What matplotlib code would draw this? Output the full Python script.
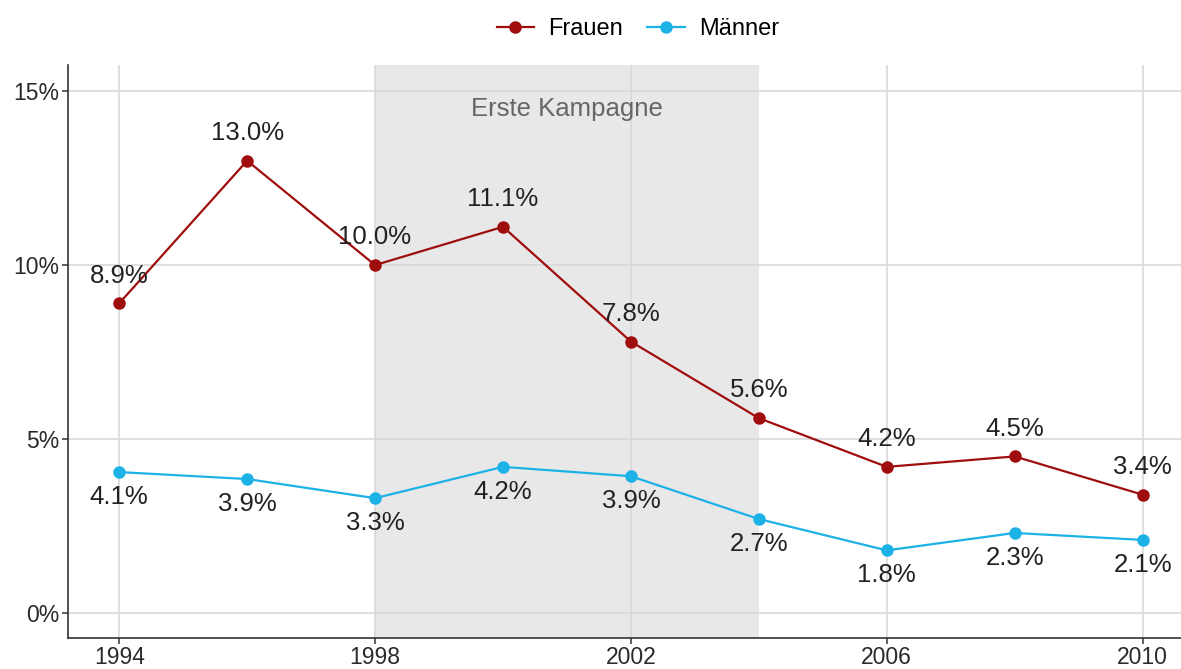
import numpy as np
import matplotlib.pyplot as plt
from matplotlib.ticker import FuncFormatter

plt.rcParams['font.family'] = ['Liberation Sans', 'DejaVu Sans']

# ── Daten ────────────────────────────────────────────────────────────────
jahre   = [1994, 1996, 1998, 2000, 2002, 2004, 2006, 2008, 2010]
frauen  = [8.9, 13.0, 10.0, 11.1, 7.8, 5.6, 4.2, 4.5, 3.4]
maenner = [4.05, 3.85, 3.3, 4.2, 3.93, 2.7, 1.8, 2.3, 2.1]
labels_frauen  = ['8.9%', '13.0%', '10.0%', '11.1%', '7.8%', '5.6%', '4.2%', '4.5%', '3.4%']
labels_maenner = ['4.1%', '3.9%', '3.3%', '4.2%', '3.9%', '2.7%', '1.8%', '2.3%', '2.1%']
kampagne = (1998, 2004)

col_f = '#a00d0d'
col_m = '#1db2e6'

fig = plt.figure(figsize=(11.81, 6.69), dpi=100)
ax = fig.add_axes([0.0576, 0.0463, 0.9424, 0.8565])

ax.axvspan(*kampagne, color='#e8e8e8', zorder=0, lw=0)
ax.text(sum(kampagne) / 2, 14.48, 'Erste Kampagne', ha='center', va='center',
        fontsize=18.5, color='#666666')

ax.plot(jahre, frauen, '-o', color=col_f, lw=1.6, ms=8, label='Frauen', zorder=3)
ax.plot(jahre, maenner, '-o', color=col_m, lw=1.6, ms=8, label='Männer', zorder=3)

for x, y, t in zip(jahre, frauen, labels_frauen):
    ax.annotate(t, (x, y), xytext=(0, 20), textcoords='offset points',
                ha='center', va='center', fontsize=18.5, color='#222222')
for x, y, t in zip(jahre, maenner, labels_maenner):
    ax.annotate(t, (x, y), xytext=(0, -18), textcoords='offset points',
                ha='center', va='center', fontsize=18.5, color='#222222')

ax.set_xlim(1993.2, 2010.6)
ax.set_ylim(-0.72, 15.75)
ax.set_xticks([1994, 1998, 2002, 2006, 2010])
ax.set_yticks([0, 5, 10, 15])
ax.yaxis.set_major_formatter(FuncFormatter(lambda v, p: f'{v:.0f}%'))
ax.grid(True, color='#d9d9d9', lw=1.2, zorder=1)
ax.set_axisbelow(True)

for s in ['top', 'right']:
    ax.spines[s].set_visible(False)
for s in ['left', 'bottom']:
    ax.spines[s].set_color('#333333')
    ax.spines[s].set_linewidth(1.2)
ax.tick_params(length=4, width=1.1, color='#333333', labelsize=16.5,
               labelcolor='#2a2a2a', pad=2)

fig.legend(loc='upper center', bbox_to_anchor=(0.54, 1.005), ncol=2, frameon=False,
           fontsize=17, handlelength=1.6, columnspacing=1.0, handletextpad=0.6)

fig.savefig('out.png', dpi=100)
